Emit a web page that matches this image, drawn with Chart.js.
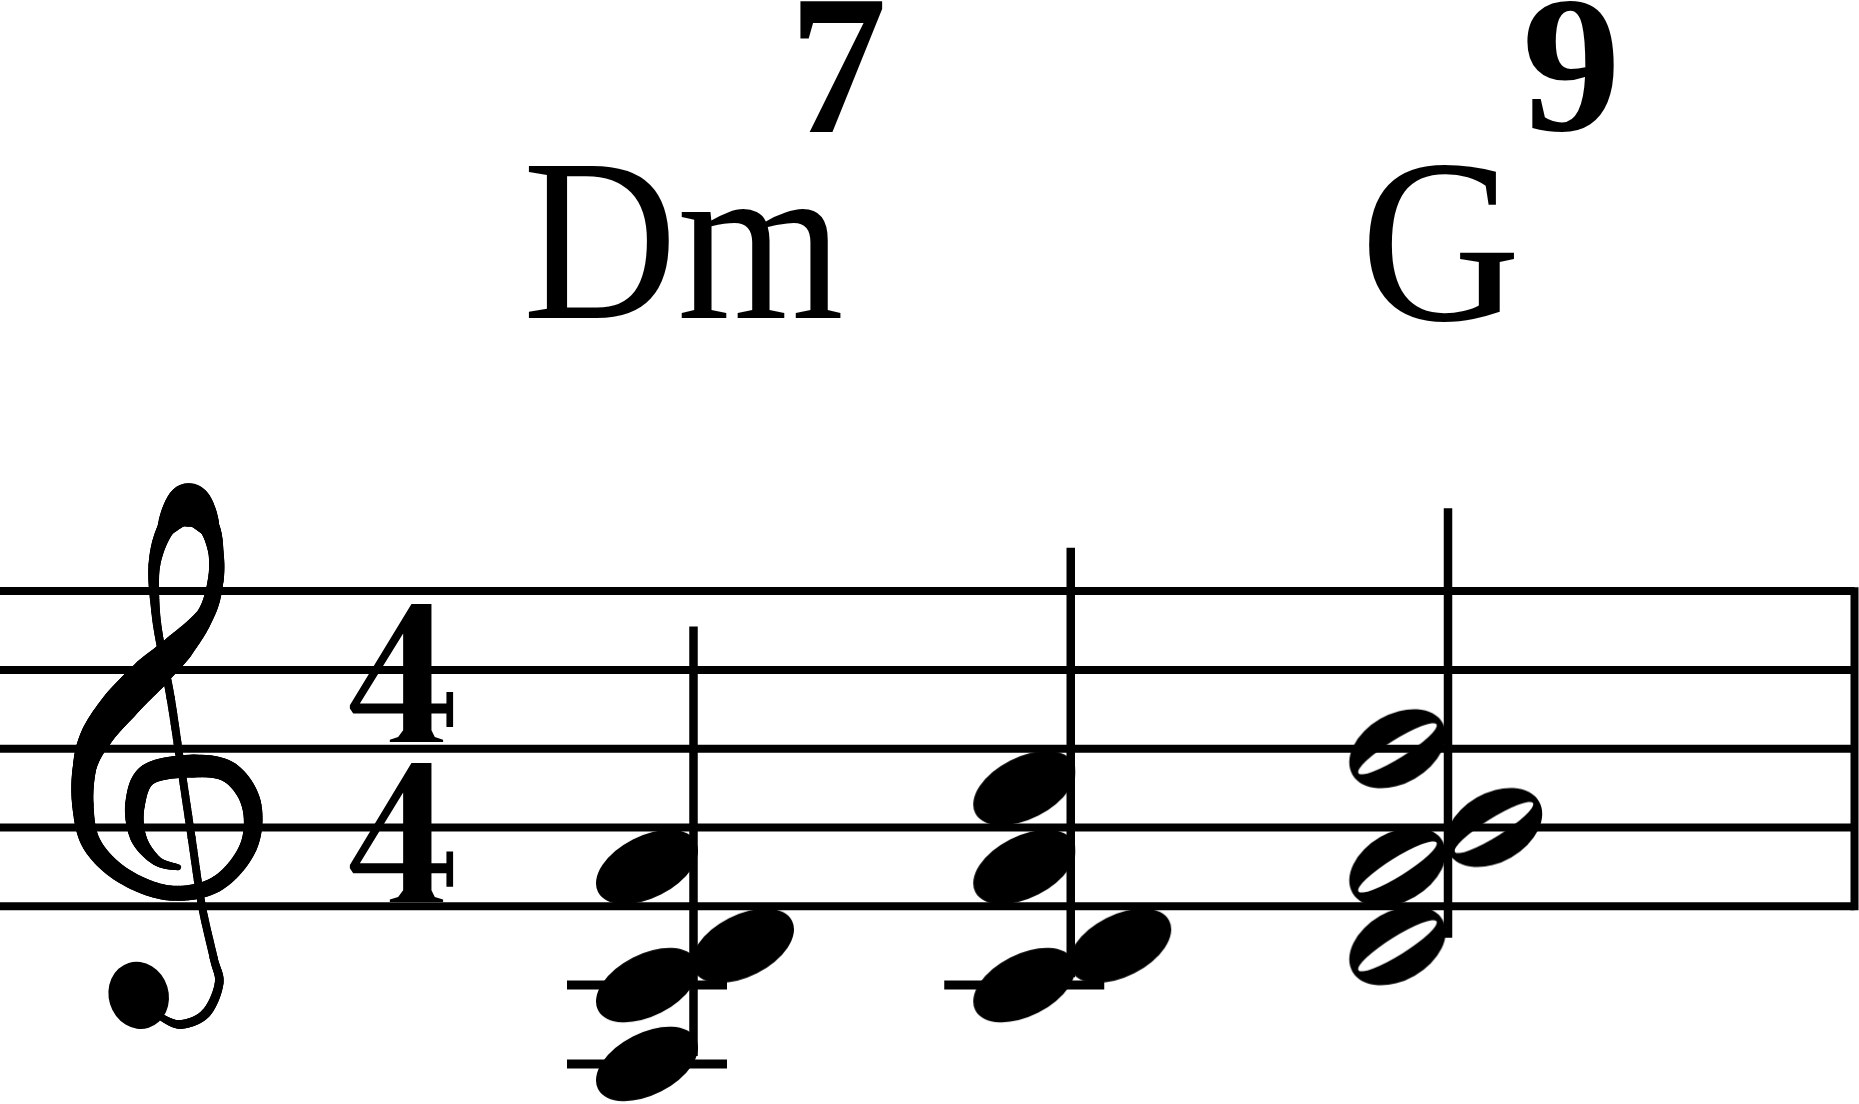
<!DOCTYPE html>
<html>
<head>
<meta charset="utf-8">
<title>Dm7 - G9</title>
<script src="https://cdn.jsdelivr.net/npm/chart.js@4.4.1/dist/chart.umd.min.js"></script>
<style>
  html, body { margin: 0; padding: 0; background: #fff; overflow: hidden; }
  #wrap { width: 1859px; height: 1104px; }
</style>
</head>
<body>
<div id="wrap"><canvas id="score" width="1859" height="1104"></canvas></div>
<script>
// x = beat in the bar, y = staff step above the bottom line (E4 = 0)
const staffLines = [0, 2, 4, 6, 8];
const onsets = [1, 2, 3];
const chordNotes = [
    ['A3', 'C4', 'D4', 'F4'],
    ['C4', 'D4', 'F4', 'A4'],
    ['D4', 'F4', 'G4', 'B4']
];
const noteValues = ['quarter', 'quarter', 'half'];
const chordRoots = ['Dm', 'G'];
const chordExts = ['7', '9'];
const chordAt = [0, 2];
const timeSig = ['4', '4'];


// Geometry of the page
const W = 1859, H = 1104;
const BOTTOM_LINE_PX = 906.3, STEP_PX = 39.4;
const BEAT1_PX = 693.5, BEAT_PX = 377.25;
const xMin = 1 - BEAT1_PX / BEAT_PX, xMax = 1 + (W - BEAT1_PX) / BEAT_PX;
const yMin = -(H - BOTTOM_LINE_PX) / STEP_PX, yMax = BOTTOM_LINE_PX / STEP_PX;
const dx = px => px / BEAT_PX;

function stepOf(name) {
    const letter = 'CDEFGAB'.indexOf(name[0]);
    const octave = parseInt(name.slice(1), 10);
    return octave * 7 + letter - (4 * 7 + 2);
}


// Note heads, stems and ledger lines
const heads = { filled: [], hollow: [] };
const stems = [], ledgers = [];
chordNotes.forEach((notes, i) => {
    const x = onsets[i];
    const steps = notes.map(stepOf).sort((a, b) => a - b);
    const kind = noteValues[i] === 'half' ? 'hollow' : 'filled';
    const off = kind === 'hollow' ? { l: -50.5, r: 46 } : { l: -46.5, r: 49.5 };
    let prev = null, prevSide = null;
    steps.forEach(s => {
        // stem up: the upper note of a second goes right of the stem
        const side = (prev !== null && s - prev === 1 && prevSide === 'l') ? 'r' : 'l';
        heads[kind].push({ x: x + dx(off[side]), y: s });
        prev = s; prevSide = side;
    });
    stems.push([{ x: x, y: steps[0] + 0.2 }, { x: x, y: steps[steps.length - 1] + 6.1 }]);
    for (let s = -2; s >= steps[0]; s -= 2) {
        const cx = x + dx(off.l);
        ledgers.push([{ x: cx - dx(80), y: s }, { x: cx + dx(80), y: s }]);
    }
});

function headCanvas(hollow) {
    const c = document.createElement('canvas');
    c.width = 130; c.height = 100;
    const g = c.getContext('2d');
    g.fillStyle = '#000';
    g.beginPath();
    if (hollow) g.ellipse(65, 50, 52, 34.5, -30 * Math.PI / 180, 0, 2 * Math.PI);
    else g.ellipse(65, 50, 55, 31, -27 * Math.PI / 180, 0, 2 * Math.PI);
    g.fill();
    if (hollow) {
        g.globalCompositeOperation = 'destination-out';
        g.beginPath();
        g.ellipse(65, 50, 46, 9, -32 * Math.PI / 180, 0, 2 * Math.PI);
        g.fill();
    }
    return c;
}


// Treble clef: centre line of a pen stroke, [u, v, width] in staff spaces, origin on the G line
const CLEF_STROKE = [
    [-0.148, 0.506, 0.07], [-0.422, 0.422, 0.12], [-0.654, 0.127, 0.20], [-0.696, -0.295, 0.25],
    [-0.527, -0.675, 0.27], [0.042, -0.78, 0.29], [0.506, -0.696, 0.27], [0.78, -0.295, 0.25],
    [0.738, 0.253, 0.22], [0.338, 0.717, 0.20], [-0.253, 0.831, 0.19], [-0.844, 0.612, 0.21],
    [-1.245, 0.211, 0.24], [-1.359, -0.295, 0.27], [-1.329, -0.802, 0.30], [-1.173, -1.181, 0.40],
    [-0.878, -1.561, 0.46], [-0.506, -1.941, 0.46], [-0.148, -2.278, 0.38], [0.198, -2.700, 0.22],
    [0.325, -3.122, 0.20], [0.329, -3.502, 0.19], [0.232, -3.840, 0.26], [-0.021, -4.093, 0.55],
    [-0.304, -3.797, 0.22], [-0.451, -3.333, 0.15], [-0.435, -2.743, 0.11], [-0.359, -2.236, 0.10],
    [-0.245, -1.646, 0.105], [-0.105, -0.717, 0.10], [0.021, 0.127, 0.10], [0.148, 0.970, 0.10],
    [0.30, 1.65, 0.10], [0.37, 1.98, 0.11], [0.20, 2.36, 0.12], [-0.12, 2.50, 0.11], [-0.38, 2.40, 0.08]
];

function drawClef(ctx, ox, oy, sp) {
    const P = CLEF_STROKE;
    ctx.lineCap = 'round';
    let last = null;
    for (let i = 0; i < P.length - 1; i++) {
        const p0 = P[Math.max(i - 1, 0)], p1 = P[i], p2 = P[i + 1], p3 = P[Math.min(i + 2, P.length - 1)];
        for (let k = 0; k <= 16; k++) {
            const t = k / 16, t2 = t * t, t3 = t2 * t;
            const cr = j => 0.5 * (2 * p1[j] + (-p0[j] + p2[j]) * t + (2 * p0[j] - 5 * p1[j] + 4 * p2[j] - p3[j]) * t2 + (-p0[j] + 3 * p1[j] - 3 * p2[j] + p3[j]) * t3);
            const pt = [ox + cr(0) * sp, oy + cr(1) * sp, (p1[2] + (p2[2] - p1[2]) * t) * sp];
            if (last) {
                ctx.lineWidth = pt[2];
                ctx.beginPath();
                ctx.moveTo(last[0], last[1]);
                ctx.lineTo(pt[0], pt[1]);
                ctx.stroke();
            }
            last = pt;
        }
    }
    ctx.beginPath();
    ctx.ellipse(ox - 0.65 * sp, oy + 2.13 * sp, 0.38 * sp, 0.43 * sp, -0.3, 0, 2 * Math.PI);
    ctx.fill();
}


// Time signature digit "4", outline in a 310 x 413 box
const FOUR_OUTLINE = [
    [185, 0], [245, 0], [245, 298], [290, 298], [290, 263], [310, 263], [310, 368], [290, 368],
    [290, 328], [245, 328], [245, 378], [255, 398], [280, 406], [280, 413], [120, 413], [120, 406],
    [145, 398], [160, 378], [160, 328], [10, 328], [0, 313], [0, 303]
];
const FOUR_HOLE = [[160, 88], [30, 298], [160, 298]];

function drawFour(ctx, left, right, top, bottom) {
    const sx = (right - left) / 310, sy = (bottom - top) / 413;
    ctx.beginPath();
    [FOUR_OUTLINE, FOUR_HOLE].forEach(poly => {
        poly.forEach((p, i) => {
            const px = left + p[0] * sx, py = top + p[1] * sy;
            if (i === 0) ctx.moveTo(px, py); else ctx.lineTo(px, py);
        });
        ctx.closePath();
    });
    ctx.fill('evenodd');
}

// Fit a text's ink box into left/right/top/bottom
function fitInk(ctx, text, left, right, top, bottom, font) {
    ctx.save();
    ctx.font = font;
    ctx.textAlign = 'left';
    ctx.textBaseline = 'alphabetic';
    const m = ctx.measureText(text);
    const sx = (right - left) / (m.actualBoundingBoxLeft + m.actualBoundingBoxRight);
    const sy = (bottom - top) / (m.actualBoundingBoxAscent + m.actualBoundingBoxDescent);
    ctx.translate(left + m.actualBoundingBoxLeft * sx, top + m.actualBoundingBoxAscent * sy);
    ctx.scale(sx, sy);
    ctx.fillText(text, 0, 0);
    ctx.restore();
}

// ink boxes of the chord names, offsets from the stem in staff spaces, heights in steps
const CHORD_BOXES = [
    { root: [-2.100, 1.872, 18.76, 14.93], ext: [1.352, 2.405, 22.95, 19.65] },
    { root: [-1.003, 0.850, 18.81, 14.83], ext: [1.003, 2.107, 22.98, 19.65] }
];
const ROOT_FONT = '200px "Liberation Serif"';
const EXT_FONT = 'bold 200px "Liberation Serif"';

const engraving = {
    id: 'engraving',
    afterDatasetsDraw(chart) {
        const { ctx, scales: { x, y } } = chart;
        const sp = Math.abs(y.getPixelForValue(2) - y.getPixelForValue(0));
        const staffLeft = x.getPixelForValue(xMin);
        ctx.save();
        ctx.fillStyle = '#000';
        ctx.strokeStyle = '#000';

        drawClef(ctx, staffLeft + 2.41 * sp, y.getPixelForValue(2), sp);

        const tsL = staffLeft + 4.44 * sp, tsR = staffLeft + 5.75 * sp;
        const tsRows = [[7.67, 4.17], [3.64, 0.11]];
        timeSig.forEach((d, i) => {
            const top = y.getPixelForValue(tsRows[i][0]), bottom = y.getPixelForValue(tsRows[i][1]);
            if (d === '4') drawFour(ctx, tsL, tsR, top, bottom);
            else fitInk(ctx, d, tsL, tsR, top, bottom, EXT_FONT);
        });

        chordRoots.forEach((root, i) => {
            const stemX = x.getPixelForValue(onsets[chordAt[i]]);
            const b = CHORD_BOXES[i];
            fitInk(ctx, root, stemX + b.root[0] * sp, stemX + b.root[1] * sp,
                y.getPixelForValue(b.root[2]), y.getPixelForValue(b.root[3]), ROOT_FONT);
            fitInk(ctx, chordExts[i], stemX + b.ext[0] * sp, stemX + b.ext[1] * sp,
                y.getPixelForValue(b.ext[2]), y.getPixelForValue(b.ext[3]), EXT_FONT);
        });
        ctx.restore();
    }
};


// Datasets
const lineSet = (data, width, order) => ({
    data: data, showLine: true, borderColor: '#000', borderWidth: width,
    borderCapStyle: 'butt', pointRadius: 0, order: order
});
const barX = xMax - dx(4.5);
const datasets = [];
staffLines.forEach(s => datasets.push(lineSet([{ x: xMin, y: s }, { x: barX, y: s }], 8, 4)));
datasets.push(lineSet([{ x: barX, y: -0.1 }, { x: barX, y: 8.1 }], 8, 4));
ledgers.forEach(l => datasets.push(lineSet(l, 9, 3)));
stems.forEach(s => datasets.push(lineSet(s, 8.5, 2)));
datasets.push({ data: heads.filled, pointStyle: headCanvas(false), pointRadius: 10, order: 1 });
datasets.push({ data: heads.hollow, pointStyle: headCanvas(true), pointRadius: 10, order: 1 });

new Chart(document.getElementById('score'), {
    type: 'scatter',
    data: { datasets: datasets },
    options: {
        responsive: false,
        devicePixelRatio: 1,
        animation: false,
        events: [],
        layout: { padding: 0, autoPadding: false },
        plugins: { legend: { display: false }, tooltip: { enabled: false } },
        scales: {
            x: { type: 'linear', min: xMin, max: xMax, display: false },
            y: { type: 'linear', min: yMin, max: yMax, display: false }
        }
    },
    plugins: [engraving]
});
</script>
</body>
</html>
